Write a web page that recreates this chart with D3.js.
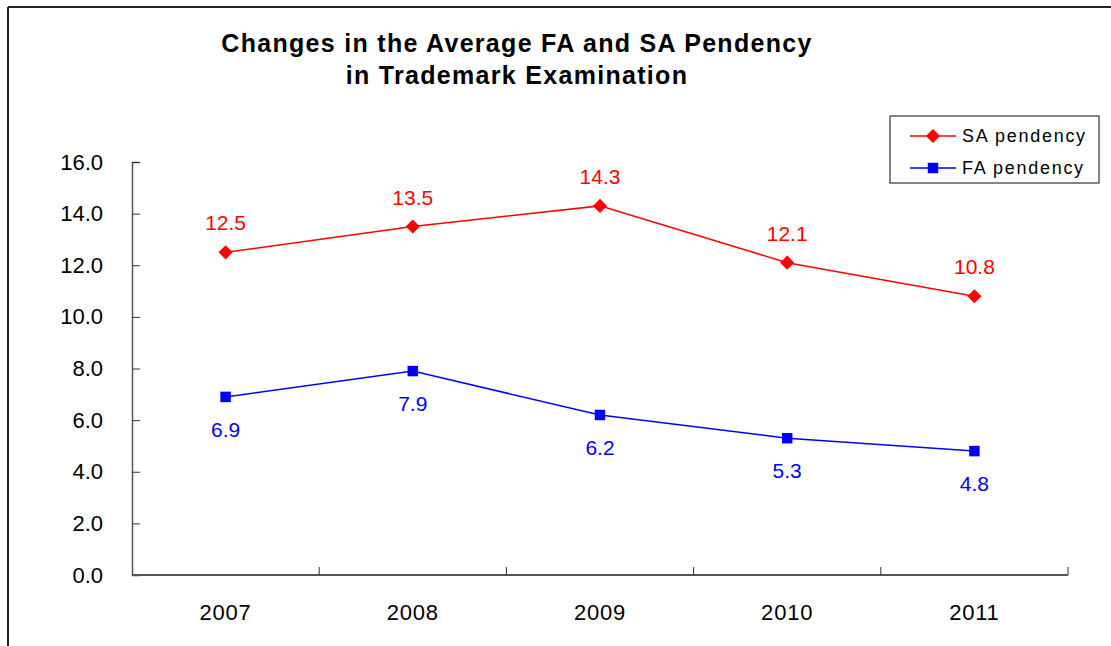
<!DOCTYPE html>
<html>
<head>
<meta charset="utf-8">
<script src="https://cdn.jsdelivr.net/npm/d3@7"></script>
<style>
  body { margin: 0; background: #fff; }
  svg { display: block; }
</style>
</head>
<body>
<div id="chart"></div>
<script>
// data
var years = ["2007", "2008", "2009", "2010", "2011"];
var saPendency = [12.5, 13.5, 14.3, 12.1, 10.8];
var faPendency = [6.9, 7.9, 6.2, 5.3, 4.8];
var yTicks = [0, 2, 4, 6, 8, 10, 12, 14, 16];
var titleLines = ["Changes in the Average FA and SA Pendency", "in Trademark Examination"];

var W = 1111, H = 646;
var margin = {top: 162, left: 132, right: 43, bottom: 71};
var width = W - margin.left - margin.right,
    height = H - margin.top - margin.bottom;
var font = "'Liberation Sans', Arial, sans-serif";

var svg = d3.select("#chart").append("svg")
    .attr("width", W)
    .attr("height", H);

// outer frame (only top and left visible)
svg.append("line").attr("x1", 8).attr("x2", W).attr("y1", 7).attr("y2", 7)
    .attr("stroke", "#222").attr("stroke-width", 2);
svg.append("line").attr("x1", 8).attr("x2", 8).attr("y1", 7).attr("y2", H)
    .attr("stroke", "#222").attr("stroke-width", 2);

// title
svg.selectAll(".title")
    .data(titleLines)
    .enter().append("text")
    .attr("class", "title")
    .attr("x", 517)
    .attr("y", function(d, i) { return 52 + i * 32; })
    .attr("text-anchor", "middle")
    .style("font-family", font)
    .style("font-weight", "bold")
    .style("font-size", "25px")
    .style("letter-spacing", "1.3px")
    .text(function(d) { return d; });

var g = svg.append("g")
    .attr("transform", "translate(" + margin.left + "," + margin.top + ")");

var x = d3.scaleBand().domain(years).range([0, width]);
var y = d3.scaleLinear().domain([0, 16]).range([height, 0]);

// y axis
var yAxis = d3.axisLeft(y).tickValues(yTicks)
    .tickSize(-8).tickPadding(29)
    .tickFormat(d3.format(".1f"));
var ya = g.append("g").call(yAxis);
ya.select(".domain").attr("stroke", "#555").attr("stroke-width", 1.5);
ya.selectAll(".tick line").attr("stroke", "#333");
ya.selectAll("text").style("font-family", font).style("font-size", "22px").attr("fill", "#000");

// x axis: ticks at category boundaries, pointing up
var xa = g.append("g").attr("transform", "translate(0," + height + ")");
xa.append("line").attr("x1", 0).attr("x2", width).attr("y1", 0).attr("y2", 0)
    .attr("stroke", "#555").attr("stroke-width", 2);
xa.selectAll(".xtick")
    .data(years)
    .enter().append("line")
    .attr("class", "xtick")
    .attr("x1", function(d) { return x(d) + x.bandwidth(); })
    .attr("x2", function(d) { return x(d) + x.bandwidth(); })
    .attr("y1", 0).attr("y2", -8)
    .attr("stroke", "#333");
xa.selectAll(".xlab")
    .data(years)
    .enter().append("text")
    .attr("class", "xlab")
    .attr("x", function(d) { return x(d) + x.bandwidth() / 2; })
    .attr("y", 45)
    .attr("text-anchor", "middle")
    .style("font-family", font)
    .style("font-size", "22px")
    .style("letter-spacing", "0.8px")
    .text(function(d) { return d; });

var cx = function(d, i) { return x(years[i]) + x.bandwidth() / 2; };
var line = d3.line().x(cx).y(function(d) { return y(d); });

var series = [
    {name: "SA pendency", values: saPendency, color: "#ff0000", rot: 45, size: 100, dy: -22},
    {name: "FA pendency", values: faPendency, color: "#0000ff", rot: 0, size: 110, dy: 40}
];
var marker = function(s) { return d3.symbol().type(d3.symbolSquare).size(s.size)(); };

series.forEach(function(s) {
    g.append("path")
        .datum(s.values)
        .attr("d", line)
        .attr("fill", "none")
        .attr("stroke", s.color)
        .attr("stroke-width", 1.5);
    g.selectAll(null)
        .data(s.values)
        .enter().append("path")
        .attr("transform", function(d, i) { return "translate(" + cx(d, i) + "," + y(d) + ") rotate(" + s.rot + ")"; })
        .attr("d", marker(s))
        .attr("fill", s.color);
    g.selectAll(null)
        .data(s.values)
        .enter().append("text")
        .attr("x", cx)
        .attr("y", function(d) { return y(d) + s.dy; })
        .attr("text-anchor", "middle")
        .style("font-family", font)
        .style("font-size", "21px")
        .attr("fill", s.color)
        .text(function(d) { return d.toFixed(1); });
});

// legend
var legend = svg.append("g").attr("transform", "translate(890,116)");
legend.append("rect")
    .attr("width", 209).attr("height", 67)
    .attr("fill", "#fff").attr("stroke", "#333").attr("stroke-width", 1.2);
var li = legend.selectAll(".li")
    .data(series)
    .enter().append("g")
    .attr("transform", function(d, i) { return "translate(0," + (20 + i * 32) + ")"; });
li.append("line")
    .attr("x1", 20).attr("x2", 66)
    .attr("stroke", function(d) { return d.color; })
    .attr("stroke-width", 1.5);
li.append("path")
    .attr("transform", function(d) { return "translate(43,0) rotate(" + d.rot + ")"; })
    .attr("d", function(d) { return marker(d); })
    .attr("fill", function(d) { return d.color; });
li.append("text")
    .attr("x", 72).attr("y", 6)
    .style("font-family", font)
    .style("font-size", "18px")
    .style("letter-spacing", "1.7px")
    .text(function(d) { return d.name; });
</script>
</body>
</html>
